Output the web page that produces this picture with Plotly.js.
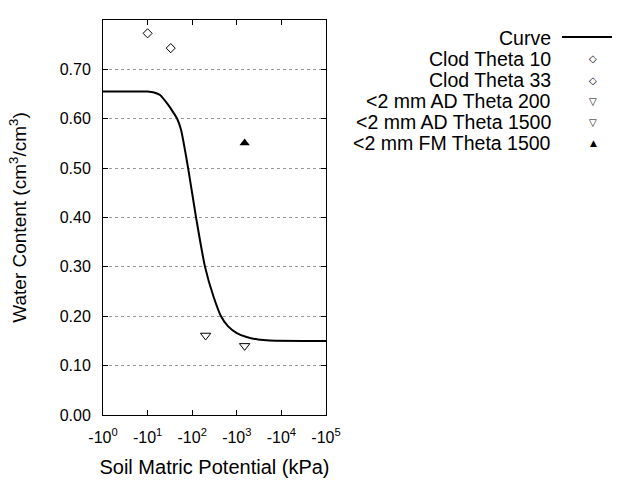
<!DOCTYPE html>
<html>
<head>
<meta charset="utf-8">
<script src="https://cdn.plot.ly/plotly-3.0.1.min.js"></script>
<style>html,body{margin:0;padding:0;background:#fff;}</style>
</head>
<body>
<div id="chart" style="width:640px;height:480px;"></div>
<script>
// Curve (suction in kPa, water content)
const curveKPa   = [1, 10, 14, 19, 29, 37, 46, 56, 81, 122, 194, 300, 443, 631, 1000, 1660, 2985, 5500, 100000];
const curveTheta = [0.655, 0.655, 0.653, 0.648, 0.628, 0.614, 0.600, 0.578, 0.500, 0.400, 0.300, 0.240, 0.200, 0.180, 0.166, 0.158, 0.153, 0.151, 0.150];

const clod10KPa = [10],   clod10Theta = [0.773];
const clod33KPa = [33],   clod33Theta = [0.743];
const ad200KPa  = [200],  ad200Theta  = [0.161];
const ad1500KPa = [1500], ad1500Theta = [0.140];
const fm1500KPa = [1500], fm1500Theta = [0.551];

const xTickVals = [1, 10, 100, 1000, 10000, 100000];
const xTickText = ['-10<sup>0</sup>', '-10<sup>1</sup>', '-10<sup>2</sup>', '-10<sup>3</sup>', '-10<sup>4</sup>', '-10<sup>5</sup>'];
const yTickVals = [0, 0.1, 0.2, 0.3, 0.4, 0.5, 0.6, 0.7];

const legendNames = ['Curve', 'Clod Theta 10', 'Clod Theta 33', '<2 mm AD Theta 200', '<2 mm AD Theta 1500', '<2 mm FM Theta 1500'];
const legendGlyphs = ['', '◇', '◇', '▽', '▽', '▲'];

const FONT = 'Liberation Sans, Arial, sans-serif';

const traces = [
  {x: curveKPa, y: curveTheta, mode: 'lines', name: legendNames[0], line: {color: '#000', width: 2, shape: 'spline', smoothing: 0.5}},
  {x: clod10KPa, y: clod10Theta, mode: 'markers', name: legendNames[1], marker: {symbol: 'diamond-open', size: 7, color: '#000', line: {width: 1}}},
  {x: clod33KPa, y: clod33Theta, mode: 'markers', name: legendNames[2], marker: {symbol: 'diamond-open', size: 7, color: '#000', line: {width: 1}}},
  {x: ad200KPa, y: ad200Theta, mode: 'markers', name: legendNames[3], marker: {symbol: 'triangle-down-open', size: 9, color: '#000', line: {width: 1}}},
  {x: ad1500KPa, y: ad1500Theta, mode: 'markers', name: legendNames[4], marker: {symbol: 'triangle-down-open', size: 9, color: '#000', line: {width: 1}}},
  {x: fm1500KPa, y: fm1500Theta, mode: 'markers', name: legendNames[5], marker: {symbol: 'triangle-up', size: 9, color: '#000'}}
];

const rowY0 = 38, rowDy = 21;
const annotations = [];
const shapes = [];
legendNames.forEach((n, i) => {
  const y = rowY0 + i * rowDy;
  annotations.push({
    xref: 'paper', yref: 'paper',
    x: (553 - 103) / 223, y: 1 - (y - 20) / 395,
    xanchor: 'right', yanchor: 'middle',
    text: n.replace(/</g, '&lt;'), showarrow: false,
    font: {family: FONT, size: 19.5, color: '#000'}
  });
  if (i === 0) {
    shapes.push({type: 'line', xref: 'paper', yref: 'paper',
      x0: (562 - 103) / 223, x1: (612 - 103) / 223,
      y0: 1 - (y - 1 - 20) / 395, y1: 1 - (y - 1 - 20) / 395,
      line: {color: '#000', width: 2}});
  } else {
    annotations.push({
      xref: 'paper', yref: 'paper',
      x: (593 - 103) / 223, y: 1 - (y - 20) / 395,
      xanchor: 'center', yanchor: 'middle',
      text: legendGlyphs[i], showarrow: false,
      font: {family: 'DejaVu Sans', size: i === 5 ? 9 : 10, color: '#000'}
    });
  }
});

const layout = {
  width: 640, height: 480,
  margin: {l: 103, r: 314, t: 20, b: 65},
  paper_bgcolor: '#fff', plot_bgcolor: '#fff',
  showlegend: false,
  font: {family: FONT, color: '#000'},
  xaxis: {
    type: 'log', range: [0, 5],
    tickvals: xTickVals, ticktext: xTickText,
    ticks: 'inside', ticklen: 5, tickcolor: '#000',
    showline: true, linecolor: '#000', linewidth: 1, mirror: 'ticks',
    showgrid: false, zeroline: false,
    ticklabelstandoff: 8,
    tickfont: {family: FONT, size: 16, color: '#000'},
    title: {text: 'Soil Matric Potential (kPa)', font: {family: FONT, size: 20, color: '#000'}, standoff: 14}
  },
  yaxis: {
    range: [0, 0.8],
    tickvals: yTickVals, tickformat: '.2f',
    ticks: 'inside', ticklen: 5, tickcolor: '#000',
    showline: true, linecolor: '#000', linewidth: 1, mirror: 'ticks',
    showgrid: true, gridcolor: '#999', griddash: 'dot', gridwidth: 1,
    zeroline: false,
    ticklabelstandoff: 8,
    tickfont: {family: FONT, size: 16, color: '#000'},
    title: {text: 'Water Content (cm<sup>3</sup>/cm<sup>3</sup>)', font: {family: FONT, size: 19, color: '#000'}, standoff: 28}
  },
  annotations: annotations,
  shapes: shapes
};

Plotly.newPlot('chart', traces, layout, {displayModeBar: false, staticPlot: true});
</script>
</body>
</html>
